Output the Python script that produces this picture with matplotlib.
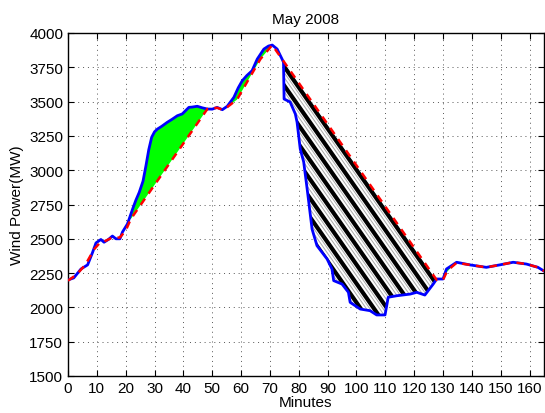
import numpy as np
import matplotlib
matplotlib.use('Agg')
import matplotlib.pyplot as plt
from matplotlib.patches import Polygon

# actual wind power (blue)
minutes = [0, 2, 4.5, 6.8, 8.5, 9.7, 11.4, 12.5, 14, 15.4, 16.6, 18, 18.9, 20.6, 21.2, 22.4,
           23.5, 24.7, 26, 27, 28, 29, 30, 31, 32.5, 34.4, 36, 37.9, 39.6, 41.9, 43, 44.8,
           46.5, 48.3, 50, 51.7, 53.5, 55.2, 57.5, 59, 60.4, 62, 63.8, 65.6, 67.9, 69.5,
           70.8, 72.5, 74.2, 74.7, 74.9, 77, 78.8, 79.4, 80.5, 81.7, 82.9, 84.6, 86.3, 89.8,
           91.5, 92.1, 95, 97.2, 97.8, 101.3, 104.7, 107, 109.9, 111, 114, 118.6, 120.9,
           123.7, 126.6, 127.8, 130, 131.2, 133, 134.7, 139.3, 145, 149.7, 154.3, 158.9,
           162.9, 165]
power = [2200, 2215, 2280, 2310, 2400, 2470, 2495, 2475, 2495, 2520, 2500, 2500, 2550, 2608,
         2644, 2717, 2780, 2839, 2920, 3030, 3150, 3240, 3280, 3300, 3320, 3349, 3370, 3397,
         3410, 3458, 3460, 3466, 3455, 3446, 3445, 3458, 3441, 3466, 3531, 3600, 3652, 3690,
         3725, 3810, 3883, 3905, 3912, 3883, 3810, 3787, 3519, 3497, 3410, 3350, 3155, 3060,
         2863, 2571, 2450, 2353, 2280, 2195, 2170, 2110, 2037, 1988, 1976, 1945, 1945, 2074,
         2085, 2097, 2110, 2090, 2170, 2207, 2207, 2280, 2305, 2329, 2310, 2292, 2310, 2329,
         2316, 2292, 2265]

# approximation (red dashed)
approx_min = [0, 3, 6, 9.1, 11, 13.1, 15, 18, 20, 21.8, 48.3, 51.7, 53.5, 55.2, 58.6, 62,
              66.7, 70.8, 127.8, 130, 131.2, 133, 134.7, 139.3, 145, 149.7, 154.3, 158.9,
              162.9, 165]
approx_pow = [2195, 2240, 2310, 2425, 2470, 2486, 2505, 2510, 2560, 2645, 3446, 3455, 3441,
              3460, 3515, 3640, 3810, 3912, 2200, 2200, 2255, 2295, 2325, 2310, 2292, 2310,
              2329, 2316, 2292, 2265]

green_ranges = [(21.2, 48.3), (55.2, 70.8), (130, 134.7)]
ramp_down = (70.8, 127.8)

mx = np.array(minutes); mp = np.array(power)
ax_ = np.array(approx_min); ap = np.array(approx_pow)

def region(a, b):
    sb = (mx >= a) & (mx <= b)
    sr = (ax_ >= a) & (ax_ <= b)
    xs = np.concatenate([mx[sb], ax_[sr][::-1]])
    ys = np.concatenate([mp[sb], ap[sr][::-1]])
    return np.column_stack([xs, ys])

plt.rcParams['font.family'] = ['Liberation Sans', 'DejaVu Sans']
fig = plt.figure(figsize=(5.45, 4.14), dpi=100)
ax = fig.add_axes([68/545, 37/414, 476/545, 343/414])

for a, b in green_ranges:
    ax.add_patch(Polygon(region(a, b), closed=True, facecolor='#00ff00', edgecolor='none', zorder=2))

# hatched ramp
hatch_poly = Polygon(region(*ramp_down), closed=True, facecolor='white', edgecolor='none', zorder=2)
ax.add_patch(hatch_poly)
slope = (2200 - 3912) / (127.8 - 70.8)
step = 4.6
for c in np.arange(30, 140, step):
    xs = np.array([c, c + (1500 - 4000) / slope])
    ys = [4000, 1500]
    l1, = ax.plot(xs, ys, color='black', lw=3.0, zorder=3, solid_capstyle='butt')
    l1.set_clip_path(hatch_poly)
    for f in (0.42, 0.68):
        l2, = ax.plot(xs + step * f, ys, color='#aaaaaa', lw=0.7, zorder=3)
        l2.set_clip_path(hatch_poly)

ax.plot(minutes, power, color='#0000ff', lw=2.0, zorder=4)
ax.plot(approx_min, approx_pow, color='#ff0000', lw=1.8, ls=(0, (3, 2.5)), zorder=5)

ax.set_xlim(0, 165)
ax.set_ylim(1500, 4000)
ax.set_xticks(np.arange(0, 161, 10))
ax.set_yticks(np.arange(1500, 4001, 250))
ax.grid(True, color='#555555', ls=(0, (1, 4)), lw=0.7)
ax.tick_params(direction='in', top=True, right=True, labelsize=11, length=4, width=0.8)
for s in ax.spines.values():
    s.set_linewidth(1.0)
ax.set_title('May 2008', fontsize=11, pad=7)
ax.set_xlabel('Minutes', fontsize=11, labelpad=0)
ax.set_ylabel('Wind Power(MW)', fontsize=11, labelpad=4)

fig.savefig('out.png', dpi=100)
